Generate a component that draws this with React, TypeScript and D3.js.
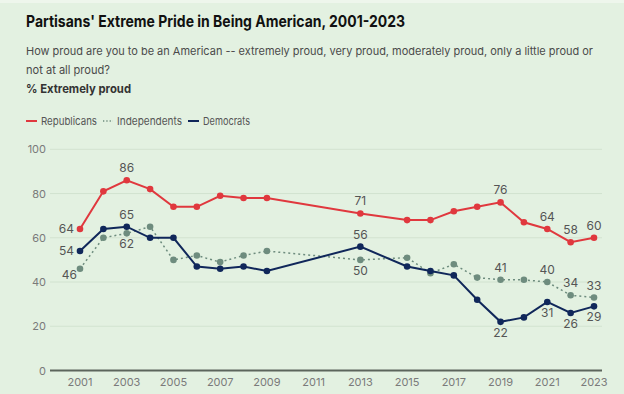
import React from 'react';
import * as d3 from 'd3';

const years = [2001, 2002, 2003, 2004, 2005, 2006, 2007, 2008, 2009, 2013, 2015, 2016, 2017, 2018, 2019, 2020, 2021, 2022, 2023];
const republicans = [64, 81, 86, 82, 74, 74, 79, 78, 78, 71, 68, 68, 72, 74, 76, 67, 64, 58, 60];
const independents = [46, 60, 62, 65, 50, 52, 49, 52, 54, 50, 51, 44, 48, 42, 41, 41, 40, 34, 33];
const democrats = [54, 64, 65, 60, 60, 47, 46, 47, 45, 56, 47, 45, 43, 32, 22, 24, 31, 26, 29];
const yTicks = [0, 20, 40, 60, 80, 100];
const xTicks = [2001, 2003, 2005, 2007, 2009, 2011, 2013, 2015, 2017, 2019, 2021, 2023];

// which points get a value label, and where
const repLabels: [number, string][] = [[2001, 'left'], [2003, 'above'], [2013, 'above'], [2019, 'above'], [2021, 'above'], [2022, 'above'], [2023, 'above']];
const indLabels: [number, string][] = [[2001, 'leftbelow'], [2003, 'below'], [2013, 'below'], [2019, 'above'], [2021, 'above'], [2022, 'above'], [2023, 'above']];
const demLabels: [number, string][] = [[2001, 'left'], [2003, 'above'], [2013, 'above'], [2019, 'below'], [2021, 'below'], [2022, 'below'], [2023, 'below']];

const W = 624;
const H = 394;
const FONT = 'Inter, "Noto Sans", sans-serif';
const RED = '#e0383e';
const GRAY = '#6e8c7e';
const NAVY = '#10275a';

const App = () => {
  const x = d3.scaleLinear().domain([2001, 2023]).range([80, 594]);
  const y = d3.scaleLinear().domain([0, 100]).range([370.5, 149.3]);

  const series = [
    { name: 'Republicans', values: republicans, color: RED, dash: null, labels: repLabels },
    { name: 'Independents', values: independents, color: GRAY, dash: '2,3', labels: indLabels },
    { name: 'Democrats', values: democrats, color: NAVY, dash: null, labels: demLabels },
  ];

  const line = (vals: number[]) =>
    d3.line<number>().x((_d, i) => x(years[i])).y((d) => y(d))(vals) || '';

  const labelPos = (px: number, py: number, where: string) => {
    if (where === 'above') return { lx: px, ly: py - 8, anchor: 'middle' };
    if (where === 'below') return { lx: px, ly: py + 15, anchor: 'middle' };
    if (where === 'left') return { lx: px - 6, ly: py + 4, anchor: 'end' };
    return { lx: px - 3, ly: py + 10, anchor: 'end' };
  };

  return (
    <svg width={W} height={H} style={{ position: 'absolute', left: 0, top: 0, background: '#e3f1e1' }} fontFamily={FONT}>
      <rect x={0} y={0} width={W} height={3} fill="#eef6ec" />
      <text x={26} y={26.5} fontSize={16} fontWeight={700} fill="#111" textLength={379} lengthAdjust="spacingAndGlyphs">Partisans' Extreme Pride in Being American, 2001-2023</text>
      <text x={26} y={54.5} fontSize={11} fill="#4a4a4a" textLength={567} lengthAdjust="spacingAndGlyphs">How proud are you to be an American -- extremely proud, very proud, moderately proud, only a little proud or</text>
      <text x={26} y={74} fontSize={12} fill="#4a4a4a" textLength={84} lengthAdjust="spacingAndGlyphs">not at all proud?</text>
      <text x={26} y={92.5} fontSize={12} fontWeight={700} fill="#333" textLength={105} lengthAdjust="spacingAndGlyphs">% Extremely proud</text>

      {/* legend */}
      <g fontSize={11} fill="#555">
        <line x1={26} x2={37} y1={121} y2={121} stroke={RED} strokeWidth={2} />
        <text x={41} y={125} textLength={56} lengthAdjust="spacingAndGlyphs">Republicans</text>
        <line x1={103} x2={113} y1={121} y2={121} stroke={GRAY} strokeWidth={1.3} strokeDasharray="1.3,2" />
        <text x={117} y={125} textLength={65} lengthAdjust="spacingAndGlyphs">Independents</text>
        <line x1={188} x2={199} y1={121} y2={121} stroke={NAVY} strokeWidth={2} />
        <text x={203} y={125} textLength={47} lengthAdjust="spacingAndGlyphs">Democrats</text>
      </g>

      {/* grid + y labels */}
      {yTicks.map((t) => (
        <g key={t}>
          {t > 0 && <line x1={50} x2={602} y1={y(t)} y2={y(t)} stroke="#d2e3d0" strokeWidth={1} />}
          <text x={46} y={y(t) + 4} textAnchor="end" fontSize={11} fill="#7a7a7a">{t}</text>
        </g>
      ))}
      <line x1={50} x2={602} y1={y(0)} y2={y(0)} stroke="#5c655c" strokeWidth={2} />

      {/* x labels */}
      {xTicks.map((t) => (
        <text key={t} x={x(t)} y={386} textAnchor="middle" fontSize={11} fill="#7a7a7a">{t}</text>
      ))}

      {/* series */}
      {series.map((s) => (
        <g key={s.name}>
          <path d={line(s.values)} fill="none" stroke={s.color} strokeWidth={s.dash ? 1.5 : 2} strokeDasharray={s.dash || undefined} />
          {s.values.map((v, i) => (
            <circle key={i} cx={x(years[i])} cy={y(v)} r={3.3} fill={s.color} />
          ))}
          {s.labels.map(([yr, where]) => {
            const i = years.indexOf(yr);
            const p = labelPos(x(yr), y(s.values[i]), where);
            return (
              <text key={yr} x={p.lx} y={p.ly} textAnchor={p.anchor} fontSize={12} fill="#555">{s.values[i]}</text>
            );
          })}
        </g>
      ))}
    </svg>
  );
};

export default App;
